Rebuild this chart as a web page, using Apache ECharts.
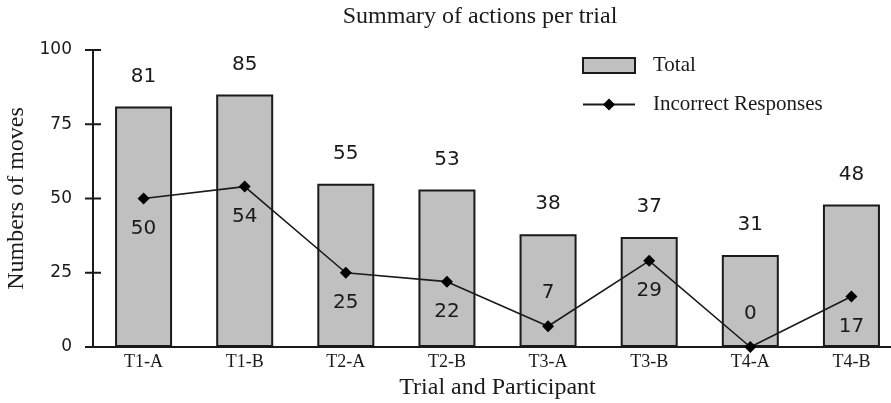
<!DOCTYPE html>
<html>
<head>
<meta charset="utf-8">
<script src="https://cdn.jsdelivr.net/npm/echarts@6/dist/echarts.min.js"></script>
<style>
  html, body { margin: 0; padding: 0; background: #fff; }
  #chart { width: 891px; height: 403px; }
</style>
</head>
<body>
<div id="chart"></div>
<script>
// Moves per trial and participant
const categories = ['T1-A', 'T1-B', 'T2-A', 'T2-B', 'T3-A', 'T3-B', 'T4-A', 'T4-B'];
const totalMoves = [81, 85, 55, 53, 38, 37, 31, 48];
const incorrectResponses = [50, 54, 25, 22, 7, 29, 0, 17];
// where each incorrect-response label sits relative to its point
const incorrectLabelSide = ['bottom', 'bottom', 'bottom', 'bottom', 'top', 'bottom', 'top', 'bottom'];
const yTickValues = [0, 25, 50, 75, 100];

const serif = '"Liberation Serif", "Times New Roman", serif';
const sans = '"DejaVu Sans", Verdana, sans-serif';
const ink = '#1a1a1a';

const chart = echarts.init(document.getElementById('chart'));

chart.setOption({
  animation: false,
  backgroundColor: '#fff',
  title: {
    text: 'Summary of actions per trial',
    left: 475, top: 0, textAlign: 'center',
    textStyle: { fontFamily: serif, fontSize: 24, fontWeight: 'normal', color: ink }
  },
  legend: {
    orient: 'vertical',
    left: 577, top: 50,
    itemWidth: 52, itemHeight: 15, itemGap: 18,
    textStyle: { fontFamily: serif, fontSize: 21, color: ink, padding: [0, 0, 0, 13] },
    data: [
      { name: 'Total', icon: 'rect' },
      { name: 'Incorrect Responses' }
    ]
  },
  grid: { left: 93, right: -11, top: 50, bottom: 56, outerBoundsMode: 'none', containLabel: false },
  xAxis: {
    type: 'category',
    data: categories,
    name: 'Trial and Participant',
    nameLocation: 'middle',
    nameGap: 24,
    nameTextStyle: { fontFamily: serif, fontSize: 24, color: ink },
    axisLine: { lineStyle: { color: ink, width: 2 } },
    axisTick: { show: false },
    axisLabel: { fontFamily: serif, fontSize: 18, color: ink, margin: 6 }
  },
  yAxis: {
    type: 'value',
    min: yTickValues[0], max: yTickValues[yTickValues.length - 1],
    interval: yTickValues[1] - yTickValues[0],
    name: 'Numbers of moves',
    nameLocation: 'middle',
    nameGap: 61,
    nameRotate: 90,
    nameTextStyle: { fontFamily: serif, fontSize: 24, color: ink },
    axisLine: { show: true, lineStyle: { color: ink, width: 2 } },
    axisTick: { show: false },
    axisLabel: { fontFamily: sans, fontSize: 17, color: ink, margin: 21 },
    splitLine: { show: false }
  },
  series: [
    {
      name: 'Total',
      type: 'bar',
      data: totalMoves,
      barWidth: 57,
      itemStyle: { color: '#c0c0c0', borderColor: ink, borderWidth: 2 },
      label: {
        show: true, position: 'top', distance: 20,
        fontFamily: sans, fontSize: 20, color: ink
      }
    },
    {
      name: 'Incorrect Responses',
      type: 'line',
      data: incorrectResponses.map((v, i) => ({
        value: v,
        label: {
          position: incorrectLabelSide[i],
          distance: incorrectLabelSide[i] === 'top' ? 17 : 14
        }
      })),
      symbol: 'diamond',
      symbolSize: 12,
      lineStyle: { color: ink, width: 1.6 },
      itemStyle: { color: '#000' },
      label: {
        show: true,
        fontFamily: sans, fontSize: 20, color: ink
      },
      z: 5
    },
    {
      // cross-shaped ticks straddling the y axis line
      name: 'yTicks',
      type: 'custom',
      silent: true,
      clip: false,
      z: 6,
      data: yTickValues.map(v => [0, v]),
      encode: { x: 0, y: 1 },
      renderItem: function (params, api) {
        const left = params.coordSys.x;
        const y = api.coord([0, api.value(1)])[1];
        return {
          type: 'line',
          shape: { x1: left - 8, y1: y, x2: left + 8, y2: y },
          style: { stroke: ink, lineWidth: 2 }
        };
      }
    }
  ]
});
</script>
</body>
</html>
